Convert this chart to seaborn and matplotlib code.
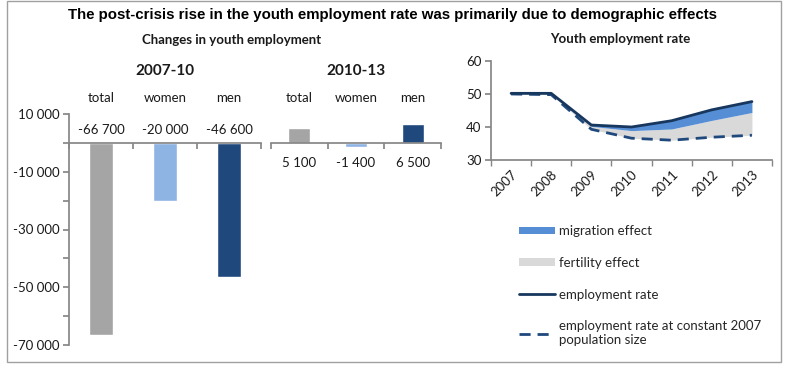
import numpy as np
import pandas as pd
import seaborn as sns
import matplotlib.pyplot as plt
from matplotlib.patches import Patch, Rectangle
from matplotlib.lines import Line2D
from matplotlib.ticker import MultipleLocator, FixedLocator

# bar data: changes in youth employment
groups = ["total", "women", "men"]
change_0710 = [-66700, -20000, -46600]
change_1013 = [5100, -1400, 6500]
bar_colors = ["#A5A5A5", "#8EB4E3", "#1F497D"]

# line data: youth employment rate
years = [2007, 2008, 2009, 2010, 2011, 2012, 2013]
emp_rate = [50.2, 50.2, 40.6, 40.0, 41.9, 45.2, 47.7]
emp_no_migration = [50.1, 50.0, 40.2, 38.9, 39.4, 42.0, 44.4]
emp_const_pop = [50.0, 49.8, 39.3, 36.6, 36.0, 36.9, 37.5]

sns.set_theme(style="white")
plt.rcParams["font.family"] = ["Lato", "DejaVu Sans"]

W, H = 785, 369
fig = plt.figure(figsize=(W / 100, H / 100), dpi=100)


def box(x0, y0, x1, y1):
    # pixel box (top-left origin) -> figure fractions
    return [x0 / W, 1 - y1 / H, (x1 - x0) / W, (y1 - y0) / H]


def fmt(v):
    return f"{v:,}".replace(",", " ")


spine_col = "#868686"
txt_col = "#1a1a1a"

# ---- bar panels ----
ax1 = fig.add_axes(box(69, 114, 261, 345))
ax2 = fig.add_axes(box(271, 114, 441, 345))

for ax, vals, head, val_y in [(ax1, change_0710, "2007-10", 4500),
                              (ax2, change_1013, "2010-13", -6900)]:
    df = pd.DataFrame({"group": groups, "change": vals})
    sns.barplot(data=df, x="group", y="change", hue="group", palette=bar_colors,
                saturation=1, width=0.39, legend=False, ax=ax)
    ax.set_ylim(-70000, 10000)
    ax.set_xlim(-0.5, 2.5)
    ax.set_xlabel("")
    ax.set_ylabel("")
    ax.spines["top"].set_visible(False)
    ax.spines["right"].set_visible(False)
    ax.spines["bottom"].set_position(("data", 0))
    ax.spines["bottom"].set_color(spine_col)
    ax.spines["left"].set_color(spine_col)
    ax.xaxis.set_major_locator(FixedLocator([-0.5, 0.5, 1.5, 2.5]))
    ax.set_xticklabels([])
    ax.tick_params(axis="x", direction="out", length=4, color=spine_col, bottom=True)
    for i, (g, v) in enumerate(zip(groups, vals)):
        ax.text(i, 15500, g, ha="center", va="center", fontsize=9.5, color=txt_col, clip_on=False)
        ax.text(i, val_y, fmt(v), ha="center", va="center", fontsize=9.5, color=txt_col, clip_on=False)
    ax.text(1, 24800, head, ha="center", va="center", fontsize=11, fontweight="bold",
            color=txt_col, clip_on=False)

ax1.yaxis.set_major_locator(MultipleLocator(10000))
ax1.set_yticklabels([fmt(int(t)) if int(t) % 20000 else "" for t in ax1.get_yticks()])
ax1.tick_params(axis="y", direction="out", length=4, color=spine_col, left=True,
                labelsize=9.5, labelcolor=txt_col, pad=3)
ax2.spines["left"].set_visible(False)
ax2.set_yticks([])

# ---- line panel ----
ax3 = fig.add_axes(box(491, 61, 772, 160))
ax3.fill_between(years, emp_const_pop, emp_no_migration, color="#D9D9D9", lw=0)
ax3.fill_between(years, emp_no_migration, emp_rate, color="#558ED5", lw=0)
sns.lineplot(x=years, y=emp_const_pop, ax=ax3, color="#1F497D", lw=2,
             linestyle=(0, (4, 2.5)))
sns.lineplot(x=years, y=emp_rate, ax=ax3, color="#17375E", lw=2)
ax3.set_xlim(2006.5, 2013.5)
ax3.set_ylim(30, 60)
ax3.set_yticks([30, 40, 50, 60])
ax3.set_xticks(years)
ax3.set_xticklabels([str(y) for y in years], rotation=45, ha="right",
                    rotation_mode="anchor")
ax3.xaxis.set_minor_locator(FixedLocator([y + 0.5 for y in [2006] + years]))
ax3.tick_params(axis="x", which="major", length=0, labelsize=9.5, labelcolor=txt_col, pad=6)
ax3.tick_params(axis="x", which="minor", length=4, color=spine_col, bottom=True, direction="out")
ax3.tick_params(axis="y", length=4, color=spine_col, left=True, direction="out",
                labelsize=9.5, labelcolor=txt_col, pad=3)
for s in ["top", "right"]:
    ax3.spines[s].set_visible(False)
for s in ["left", "bottom"]:
    ax3.spines[s].set_color(spine_col)

handles = [Patch(color="#558ED5", lw=0), Patch(color="#D9D9D9", lw=0),
           Line2D([], [], color="#17375E", lw=2),
           Line2D([], [], color="#1F497D", lw=2, linestyle=(0, (4, 2.5)))]
labels = ["migration effect", "fertility effect", "employment rate",
          "employment rate at constant 2007\npopulation size"]
fig.legend(handles, labels, loc="upper left", bbox_to_anchor=(519 / W, 1 - 225 / H),
           frameon=False, fontsize=9.5, handlelength=2.7, handleheight=0.5,
           labelspacing=1.5, handletextpad=0.35, borderaxespad=0, borderpad=0)

# ---- titles ----
fig.text(393 / W, 1 - 15 / H,
         "The post-crisis rise in the youth employment rate was primarily due to demographic effects",
         ha="center", va="center", fontsize=10.8, fontweight="bold", color="black",
         family=["Liberation Sans", "DejaVu Sans"])
fig.text(232 / W, 1 - 40 / H, "Changes in youth employment", ha="center", va="center",
         fontsize=9.5, fontweight="bold", color=txt_col)
fig.text(620 / W, 1 - 39 / H, "Youth employment rate", ha="center", va="center",
         fontsize=9.5, fontweight="bold", color=txt_col)

fig.patches.append(Rectangle((7 / W, 1 - 362 / H), 774 / W, 361 / H, transform=fig.transFigure,
                             fill=False, edgecolor="#A0A0A0", lw=1))

fig.savefig("out.png", dpi=100)
